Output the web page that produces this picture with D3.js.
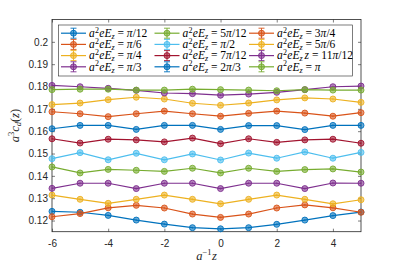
<!DOCTYPE html>
<html>
<head>
<meta charset="utf-8">
<script src="https://cdn.jsdelivr.net/npm/d3@7"></script>
<style>
  body { margin: 0; background: #fff; }
  .tick text { font-family: "Liberation Sans", Arial, sans-serif; font-size: 10px; fill: #262626; }
</style>
</head>
<body>
<script>
// x positions (a^-1 z)
var zVals = [-6, -5, -4, -3, -2, -1, 0, 1, 2, 3, 4, 5]

// one array per field value
var pi12   = [0.1241, 0.1237, 0.1223, 0.1202, 0.1184, 0.1168, 0.1163, 0.1168, 0.1183, 0.1202, 0.1222, 0.1238]
var pi6    = [0.1217, 0.1231, 0.1257, 0.1268, 0.1256, 0.1229, 0.1214, 0.1229, 0.1256, 0.1270, 0.1257, 0.1237]
var pi4    = [0.1314, 0.1295, 0.1277, 0.1295, 0.1314, 0.1295, 0.1275, 0.1295, 0.1314, 0.1295, 0.1275, 0.1293]
var pi3    = [0.1344, 0.1367, 0.1367, 0.1343, 0.1367, 0.1367, 0.1343, 0.1367, 0.1367, 0.1343, 0.1368, 0.1367]
var pi5_12 = [0.1440, 0.1413, 0.1429, 0.1425, 0.1420, 0.1434, 0.1413, 0.1434, 0.1420, 0.1428, 0.1431, 0.1417]
var pi2    = [0.1477, 0.1504, 0.1472, 0.1501, 0.1472, 0.1498, 0.1471, 0.1502, 0.1479, 0.1507, 0.1479, 0.1505]
var pi7_12 = [0.1566, 0.1547, 0.1564, 0.1561, 0.1552, 0.1569, 0.1544, 0.1566, 0.1550, 0.1561, 0.1564, 0.1546]
var pi2_3  = [0.1611, 0.1626, 0.1626, 0.1608, 0.1626, 0.1626, 0.1608, 0.1625, 0.1625, 0.1607, 0.1626, 0.1626]
var pi3_4  = [0.1687, 0.1678, 0.1665, 0.1678, 0.1690, 0.1678, 0.1667, 0.1680, 0.1690, 0.1681, 0.1667, 0.1683]
var pi5_6  = [0.1719, 0.1726, 0.1741, 0.1752, 0.1744, 0.1725, 0.1716, 0.1726, 0.1740, 0.1749, 0.1744, 0.1729]
var pi11_12 = [0.1805, 0.1799, 0.1792, 0.1783, 0.1771, 0.1768, 0.1761, 0.1766, 0.1774, 0.1786, 0.1799, 0.1802]
var piFull = [0.1786, 0.1788, 0.1788, 0.1784, 0.1784, 0.1788, 0.1786, 0.1784, 0.1781, 0.1786, 0.1784, 0.1784]

// error bar half widths (small, mostly hidden by the markers)
var errs = [0.0004, 0.0004, 0.0004, 0.0004, 0.0004, 0.0004, 0.0004, 0.0004, 0.0004, 0.0004, 0.0004, 0.0004]

// legend labels: the part after "a^2 e E_z ="
var labels = ['π/12', 'π/6', 'π/4', 'π/3', '5π/12', 'π/2', '7π/12', '2π/3', '3π/4', '5π/6', '11π/12', 'π']

var allSeries = [pi12, pi6, pi4, pi3, pi5_12, pi2, pi7_12, pi2_3, pi3_4, pi5_6, pi11_12, piFull]

var colors = ['#0072BD', '#D95319', '#EDB120', '#7E2F8E', '#77AC30', '#4DBEEE', '#A2142F',
              '#0072BD', '#D95319', '#EDB120', '#7E2F8E', '#77AC30']

var xTicks = [-6, -4, -2, 0, 2, 4]
var yTicks = [0.12, 0.13, 0.14, 0.15, 0.16, 0.17, 0.18, 0.19, 0.2]

var width = 399, height = 266
var margin = {top: 19.5, right: 38, bottom: 34.3, left: 52}

var svg = d3.select("body").append("svg")
    .attr("width", width)
    .attr("height", height)

svg.append("rect").attr("width", width).attr("height", height).attr("fill", "#fff")

var x = d3.scaleLinear().domain([-6, 5]).range([margin.left, width - margin.right])
var y = d3.scaleLinear().domain([0.115, 0.21]).range([height - margin.bottom, margin.top])

var axisColor = "#262626"

// axes: ticks point inward, box on all sides
function styleAxis(g) {
    g.select(".domain").remove()
    g.selectAll(".tick line").attr("stroke", axisColor).attr("stroke-width", 0.6)
}

svg.append("g")
    .attr("transform", "translate(0," + (height - margin.bottom) + ")")
    .call(d3.axisBottom(x).tickValues(xTicks).tickSizeInner(-3).tickSizeOuter(0).tickPadding(8)
        .tickFormat(d => d < 0 ? "-" + Math.abs(d) : d))
    .call(styleAxis)

svg.append("g")
    .attr("transform", "translate(0," + margin.top + ")")
    .call(d3.axisTop(x).tickValues(xTicks).tickSizeInner(-3).tickSizeOuter(0).tickFormat(""))
    .call(styleAxis)

svg.append("g")
    .attr("transform", "translate(" + margin.left + ",0)")
    .call(d3.axisLeft(y).tickValues(yTicks).tickSizeInner(-3).tickSizeOuter(0).tickPadding(4)
        .tickFormat(d3.format("~g")))
    .call(styleAxis)

svg.append("g")
    .attr("transform", "translate(" + (width - margin.right) + ",0)")
    .call(d3.axisRight(y).tickValues(yTicks).tickSizeInner(-3).tickSizeOuter(0).tickFormat(""))
    .call(styleAxis)

svg.append("rect")
    .attr("x", margin.left).attr("y", margin.top)
    .attr("width", width - margin.left - margin.right)
    .attr("height", height - margin.top - margin.bottom)
    .attr("fill", "none").attr("stroke", axisColor).attr("stroke-width", 0.8)

// data series
var line = d3.line().x((d, i) => x(zVals[i])).y(d => y(d))

allSeries.forEach(function(vals, k) {
    var g = svg.append("g")
    var c = colors[k]
    g.append("path").datum(vals).attr("d", line)
        .attr("fill", "none").attr("stroke", c).attr("stroke-width", 1.2)
    vals.forEach(function(v, i) {
        var cx = x(zVals[i])
        g.append("line").attr("x1", cx).attr("x2", cx)
            .attr("y1", y(v - errs[k])).attr("y2", y(v + errs[k]))
            .attr("stroke", c).attr("stroke-width", 0.8)
    })
    g.selectAll("circle").data(vals).join("circle")
        .attr("cx", (d, i) => x(zVals[i]))
        .attr("cy", d => y(d))
        .attr("r", 3)
        .attr("fill", c).attr("fill-opacity", 0.6)
        .attr("stroke", c).attr("stroke-width", 0.9)
})

// legend
var legX = 58.5, legY = 25, legW = 294, legH = 51
svg.append("rect").attr("x", legX).attr("y", legY).attr("width", legW).attr("height", legH)
    .attr("fill", "#fff").attr("stroke", axisColor).attr("stroke-width", 0.6)

var colX = [61, 154.5, 249], rowY = [33.2, 44.4, 55.6, 66.8]

function writeLabel(t, val, extraZ) {
    var serif = '"Liberation Serif", "Times New Roman", serif'
    t.attr("font-family", serif).attr("font-size", 11.5).attr("fill", "#000")
    t.append("tspan").attr("font-style", "italic").text("a")
    t.append("tspan").attr("font-size", 8).attr("dy", -4.5).attr("dx", 0.3).text("2")
    t.append("tspan").attr("font-style", "italic").attr("dy", 4.5).attr("dx", 0.3).text("eE")
    t.append("tspan").attr("font-style", "italic").attr("font-size", 8).attr("dy", 2).text("z")
    if (extraZ) {
        t.append("tspan").attr("dy", -2).attr("dx", 2).attr("font-style", "italic").text("z")
        t.append("tspan").text("\u00A0=\u00A0")
    } else {
        t.append("tspan").attr("dy", -2).text("\u00A0=\u00A0")
    }
    var m = val.match(/^(\d*)π(.*)$/)
    if (m[1]) t.append("tspan").text(m[1])
    t.append("tspan").attr("font-style", "italic").text("π")
    t.append("tspan").text(m[2])
}

labels.forEach(function(lab, k) {
    var col = Math.floor(k / 4), row = k % 4
    var lx = colX[col], ly = rowY[row], c = colors[k]
    var g = svg.append("g")
    g.append("line").attr("x1", lx).attr("x2", lx + 25).attr("y1", ly).attr("y2", ly)
        .attr("stroke", c).attr("stroke-width", 1.2)
    var mx = lx + 12.5
    g.append("line").attr("x1", mx).attr("x2", mx).attr("y1", ly - 5).attr("y2", ly + 5)
        .attr("stroke", c).attr("stroke-width", 0.9)
    g.append("line").attr("x1", mx - 3).attr("x2", mx + 3).attr("y1", ly - 5).attr("y2", ly - 5)
        .attr("stroke", c).attr("stroke-width", 0.9)
    g.append("line").attr("x1", mx - 3).attr("x2", mx + 3).attr("y1", ly + 5).attr("y2", ly + 5)
        .attr("stroke", c).attr("stroke-width", 0.9)
    g.append("circle").attr("cx", mx).attr("cy", ly).attr("r", 3)
        .attr("fill", c).attr("fill-opacity", 0.6).attr("stroke", c).attr("stroke-width", 0.9)
    var t = g.append("text").attr("x", lx + 28).attr("y", ly + 3.8)
    writeLabel(t, lab, lab === '11π/12')
})

// axis labels
var serifFont = '"Liberation Serif", "Times New Roman", serif'
var xl = svg.append("text")
    .attr("x", (margin.left + width - margin.right) / 2).attr("y", 260)
    .attr("text-anchor", "middle")
    .attr("font-family", serifFont).attr("font-size", 12.5).attr("fill", "#262626")
xl.append("tspan").attr("font-style", "italic").text("a")
xl.append("tspan").attr("font-size", 8.5).attr("dy", -5).text("−1")
xl.append("tspan").attr("font-style", "italic").attr("dy", 5).attr("dx", 0.5).text("z")

var yl = svg.append("text")
    .attr("transform", "translate(19," + ((margin.top + height - margin.bottom) / 2) + ") rotate(-90)")
    .attr("text-anchor", "middle")
    .attr("font-family", serifFont).attr("font-size", 12.5).attr("fill", "#262626")
yl.append("tspan").attr("font-style", "italic").text("a")
yl.append("tspan").attr("font-size", 8.5).attr("dy", -5).text("3")
yl.append("tspan").attr("font-style", "italic").attr("dy", 5).text("c")
yl.append("tspan").attr("font-style", "italic").attr("font-size", 8.5).attr("dy", 2).text("d")
yl.append("tspan").attr("dy", -2).text("(")
yl.append("tspan").attr("font-style", "italic").text("z")
yl.append("tspan").text(")")
</script>
</body>
</html>
